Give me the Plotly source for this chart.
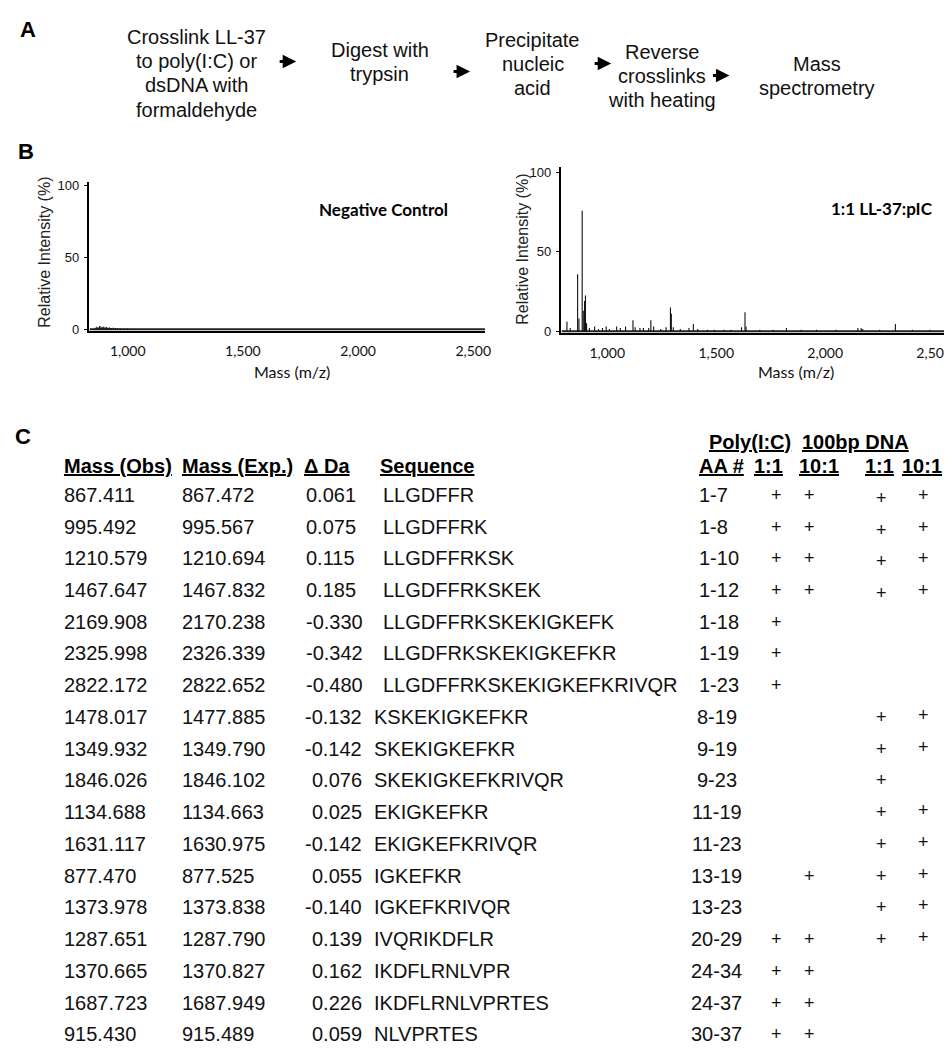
import plotly.graph_objects as go

W, H = 952, 1059


def X(px):
    return px / W


def Y(py):
    return 1 - py / H


# ---------------- DATA ----------------
# Panel A workflow steps
steps = [
    ["Crosslink LL-37", "to poly(I:C) or", "dsDNA with", "formaldehyde"],
    ["Digest with", "trypsin"],
    ["Precipitate", "nucleic", "acid"],
    ["Reverse", "crosslinks", "with heating"],
    ["Mass", "spectrometry"],
]

# Panel B spectra (mass m/z, relative intensity %)
neg_mass = [858, 866, 872, 878, 884, 890, 896, 902, 908, 914, 921, 929, 937, 946, 956, 968, 982, 998, 1015]
neg_int = [1.0, 1.8, 1.3, 2.2, 1.7, 1.4, 1.9, 1.3, 1.6, 1.1, 1.3, 0.9, 1.0, 0.8, 0.7, 0.6, 0.5, 0.5, 0.4]

pic_mass = [815, 830, 864, 870, 885, 890, 896, 900, 905, 918, 942, 960, 978, 995, 1010,
            1043, 1060, 1084, 1118, 1128, 1150, 1166, 1190, 1200, 1213, 1245, 1270, 1290,
            1294, 1303, 1335, 1375, 1395, 1415, 1460, 1492, 1535, 1568, 1616, 1632, 1637,
            1700, 1760, 1822, 1890, 1960, 2050, 2150, 2165, 2172, 2250, 2322, 2400, 2480]
pic_int = [6, 2, 36, 8, 76, 13, 19, 22.5, 5, 2, 3, 1.5, 2, 3, 1.5,
           3, 2, 3, 7, 2.5, 2, 2, 2, 7, 3, 1.5, 2.5, 15,
           11, 2.5, 1.5, 2, 4.5, 1.5, 1, 1, 1, 1, 2.5, 12, 3,
           1, 1, 2, 1, 1, 1, 2, 2, 1.5, 1, 4.5, 1, 1]

x_tickvals = [1000, 1500, 2000, 2500]
x_ticktext = ["1,000", "1,500", "2,000", "2,500"]
y_tickvals = [0, 50, 100]

# Panel C table
mass_obs = ["867.411", "995.492", "1210.579", "1467.647", "2169.908", "2325.998", "2822.172",
            "1478.017", "1349.932", "1846.026", "1134.688", "1631.117", "877.470", "1373.978",
            "1287.651", "1370.665", "1687.723", "915.430"]
mass_exp = ["867.472", "995.567", "1210.694", "1467.832", "2170.238", "2326.339", "2822.652",
            "1477.885", "1349.790", "1846.102", "1134.663", "1630.975", "877.525", "1373.838",
            "1287.790", "1370.827", "1687.949", "915.489"]
delta_da = ["0.061", "0.075", "0.115", "0.185", "-0.330", "-0.342", "-0.480",
            "-0.132", "-0.142", "0.076", "0.025", "-0.142", "0.055", "-0.140",
            "0.139", "0.162", "0.226", "0.059"]
sequence = ["LLGDFFR", "LLGDFFRK", "LLGDFFRKSK", "LLGDFFRKSKEK", "LLGDFFRKSKEKIGKEFK",
            "LLGDFRKSKEKIGKEFKR", "LLGDFFRKSKEKIGKEFKRIVQR", "KSKEKIGKEFKR", "SKEKIGKEFKR",
            "SKEKIGKEFKRIVQR", "EKIGKEFKR", "EKIGKEFKRIVQR", "IGKEFKR", "IGKEFKRIVQR",
            "IVQRIKDFLR", "IKDFLRNLVPR", "IKDFLRNLVPRTES", "NLVPRTES"]
aa_range = ["1-7", "1-8", "1-10", "1-12", "1-18", "1-19", "1-23", "8-19", "9-19", "9-23",
            "11-19", "11-23", "13-19", "13-23", "20-29", "24-34", "24-37", "30-37"]
pic_1_1 = [1, 1, 1, 1, 1, 1, 1, 0, 0, 0, 0, 0, 0, 0, 1, 1, 1, 1]
pic_10_1 = [1, 1, 1, 1, 0, 0, 0, 0, 0, 0, 0, 0, 1, 0, 1, 1, 1, 1]
dna_1_1 = [1, 1, 1, 1, 0, 0, 0, 1, 1, 1, 1, 1, 1, 1, 1, 0, 0, 0]
dna_10_1 = [1, 1, 1, 1, 0, 0, 0, 1, 1, 0, 1, 1, 1, 1, 1, 0, 0, 0]

# ---------------- FIGURE ----------------
ARIAL = "Liberation Sans, Arial, sans-serif"
CALIBRI = "Lato, Carlito, Calibri, sans-serif"

fig = go.Figure()


def sticks(masses, ints):
    xs, ys = [], []
    for m, h in zip(masses, ints):
        xs += [m, m, None]
        ys += [0, h, None]
    return xs, ys


nx, ny = sticks(neg_mass, neg_int)
px_, py_ = sticks(pic_mass, pic_int)

L_RANGE = [834, 2551]
R_RANGE = [790, 2591]

fig.add_trace(go.Scatter(x=L_RANGE, y=[0, 0], mode="lines",
                         line=dict(color="#222", width=2), xaxis="x", yaxis="y",
                         hoverinfo="skip"))
fig.add_trace(go.Scatter(x=nx, y=ny, mode="lines", line=dict(color="#111", width=1.2),
                         xaxis="x", yaxis="y"))
fig.add_trace(go.Scatter(x=R_RANGE, y=[0, 0], mode="lines",
                         line=dict(color="#222", width=2), xaxis="x2", yaxis="y2",
                         hoverinfo="skip"))
fig.add_trace(go.Scatter(x=px_, y=py_, mode="lines", line=dict(color="#111", width=1.1),
                         xaxis="x2", yaxis="y2"))

xcommon = dict(showgrid=False, zeroline=False, showline=True, linecolor="black",
               linewidth=1.5, ticks="", tickvals=x_tickvals, ticktext=x_ticktext,
               tickfont=dict(family=CALIBRI, size=14, color="#111"),
               ticklabelstandoff=6)
ycommon = dict(showgrid=False, zeroline=False, showline=True, linecolor="black",
               linewidth=1.5, ticks="outside", ticklen=4, tickwidth=1.2, tickcolor="black",
               tickvals=y_tickvals, tickfont=dict(family=ARIAL, size=13, color="#111"),
               ticklabelstandoff=2)

fig.update_layout(
    width=W, height=H, margin=dict(l=0, r=0, t=0, b=0),
    paper_bgcolor="white", plot_bgcolor="white", showlegend=False,
    xaxis=dict(domain=[X(82), X(480)], range=L_RANGE, anchor="y", **xcommon),
    yaxis=dict(domain=[Y(323), Y(172)], range=[-1.38, 102.76], anchor="x", **ycommon),
    xaxis2=dict(domain=[X(557), 1.0], range=R_RANGE, anchor="y2", **xcommon),
    yaxis2=dict(domain=[Y(325), Y(157)], range=[-1.25, 103.75], anchor="x2", **ycommon),
)

ann = []


def txt(x, y, s, size=20, family=ARIAL, xanchor="left", color="black", angle=0):
    ann.append(dict(x=X(x), y=Y(y), xref="paper", yref="paper", text=s, showarrow=False,
                    xanchor=xanchor, yanchor="middle", textangle=angle,
                    font=dict(family=family, size=size, color=color)))


# Panel letters
txt(10, 19, "<b>A</b>", size=22)
txt(8, 142, "<b>B</b>", size=22)
txt(5, 429, "<b>C</b>", size=22)

# Panel A text blocks
step_x = [190, 374, 528, 658, 814]
step_y0 = [26, 39, 29, 41, 53]
for sx, sy, lines in zip(step_x, step_y0, steps):
    for k, line in enumerate(lines):
        txt(sx, sy + 24.5 * k, line, size=20, xanchor="center", color="#111")

arrow_x = [281, 456, 598, 717]
arrow_y = [51, 61, 53, 65]
for axp, ayp in zip(arrow_x, arrow_y):
    ann.append(dict(x=X(axp + 9), y=Y(ayp), xref="paper", yref="paper", text="",
                    showarrow=True, ax=-18, ay=0, arrowhead=2, arrowsize=0.9,
                    arrowwidth=3, arrowcolor="black"))

# Panel B titles
txt(378, 200, "<b>Negative Control</b>", size=17, family=CALIBRI, xanchor="center")
txt(880, 199, "<b>1:1 LL-37:pIC</b>", size=17, family=CALIBRI, xanchor="center")
txt(37, 243, "Relative Intensity (%)", size=16, xanchor="center", color="#222", angle=-90)
txt(518, 240, "Relative Intensity (%)", size=16, xanchor="center", color="#222", angle=-90)
txt(286, 364, "Mass (m/z)", size=16, family=CALIBRI, xanchor="center", color="#111")
txt(793, 364, "Mass (m/z)", size=16, family=CALIBRI, xanchor="center", color="#111")

# Panel C headers
txt(747, 435, "<b><u>Poly(I:C)</u></b>", xanchor="center")
txt(853, 435, "<b><u>100bp DNA</u></b>", xanchor="center")
hy = 459
txt(54, hy, "<b><u>Mass (Obs)</u></b>")
txt(173, hy, "<b><u>Mass (Exp.)</u></b>")
txt(296, hy, "<b><u>Δ Da</u></b>")
txt(372, hy, "<b><u>Sequence</u></b>")
txt(693, hy, "<b><u>AA #</u></b>")
txt(765, hy, "<b><u>1:1</u></b>", xanchor="center")
txt(816, hy, "<b><u>10:1</u></b>", xanchor="center")
txt(877, hy, "<b><u>1:1</u></b>", xanchor="center")
txt(920, hy, "<b><u>10:1</u></b>", xanchor="center")

plus_x = [773, 807, 879, 921]
for i in range(len(mass_obs)):
    ry = 488 + 32 * i
    txt(54, ry, mass_obs[i], color="#111")
    txt(173, ry, mass_exp[i], color="#111")
    if i < 7:
        txt(298, ry, delta_da[i], color="#111")
        txt(375, ry, sequence[i], color="#111")
        txt(693, ry, aa_range[i], color="#111")
    else:
        txt(358, ry, delta_da[i], xanchor="right", color="#111")
        txt(366, ry, sequence[i], color="#111")
        txt(713, ry, aa_range[i], xanchor="center", color="#111")
    flags = [pic_1_1[i], pic_10_1[i], dna_1_1[i], dna_10_1[i]]
    for c, (f, cx) in enumerate(zip(flags, plus_x)):
        if f:
            dy = 0
            if c == 2 and i < 4:
                dy = 3
            if c == 3 and i >= 7:
                dy = -2
            txt(cx, ry + dy, "+", size=18, xanchor="center", color="#111")

fig.update_layout(annotations=ann)
fig.write_html("out.html")
